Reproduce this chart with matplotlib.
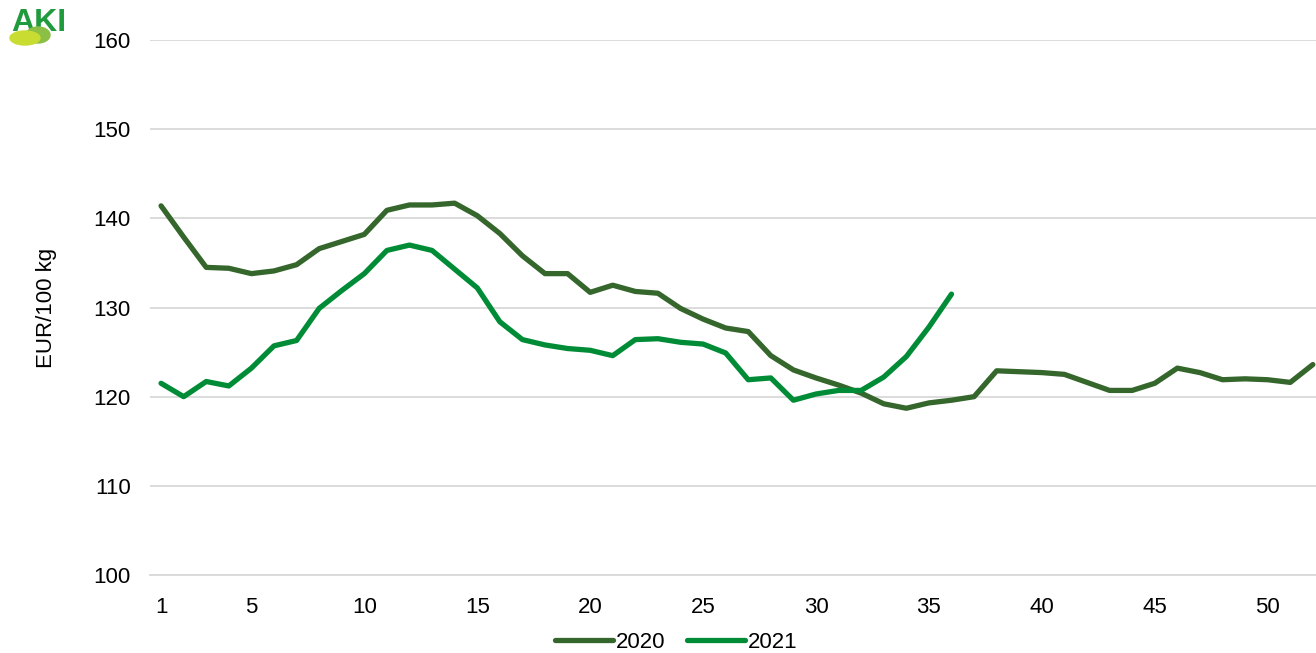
import numpy as np
import matplotlib.pyplot as plt
from matplotlib.patches import Ellipse

plt.rcParams['font.family'] = ['Liberation Sans', 'DejaVu Sans']

weeks_2020 = np.arange(1, 53)
price_2020 = [141.4, 137.9, 134.5, 134.4, 133.8, 134.1, 134.8, 136.6, 137.4, 138.2,
              140.9, 141.5, 141.5, 141.7, 140.3, 138.3, 135.8, 133.8, 133.8, 131.7,
              132.5, 131.8, 131.6, 129.9, 128.7, 127.7, 127.3, 124.6, 123.0, 122.1,
              121.3, 120.4, 119.2, 118.7, 119.3, 119.6, 120.0, 122.9, 122.8, 122.7,
              122.5, 121.6, 120.7, 120.7, 121.5, 123.2, 122.7, 121.9, 122.0, 121.9,
              121.6, 123.6]

weeks_2021 = np.arange(1, 37)
price_2021 = [121.5, 120.0, 121.7, 121.2, 123.2, 125.7, 126.3, 129.9, 131.9, 133.8,
              136.4, 137.0, 136.4, 134.3, 132.2, 128.4, 126.4, 125.8, 125.4, 125.2,
              124.6, 126.4, 126.5, 126.1, 125.9, 124.9, 121.9, 122.1, 119.6, 120.3,
              120.7, 120.7, 122.2, 124.5, 127.8, 131.5]

xticks = [1, 5, 10, 15, 20, 25, 30, 35, 40, 45, 50]
yticks = [100, 110, 120, 130, 140, 150, 160]

fig = plt.figure(figsize=(13.16, 6.53), dpi=100)
ax = fig.add_axes([150/1316, 1-575/653, 1-150/1316, (575-40)/653])

ax.plot(weeks_2020, price_2020, color='#35662c', lw=3.8, label='2020', solid_capstyle='round')
ax.plot(weeks_2021, price_2021, color='#008c36', lw=3.8, label='2021', solid_capstyle='round')

ax.set_xlim(0.51, 52.14)
ax.set_ylim(100, 160)
ax.set_xticks(xticks)
ax.set_yticks(yticks)
ax.tick_params(axis='both', length=0, labelsize=16)
ax.tick_params(axis='x', pad=16)
ax.tick_params(axis='y', pad=14)
ax.grid(axis='y', color='#d9d9d9', lw=1.3)
ax.set_axisbelow(True)
for s in ['top', 'right', 'left']:
    ax.spines[s].set_visible(False)
ax.spines['bottom'].set_color('#d9d9d9')
ax.spines['bottom'].set_linewidth(1.3)

ax.set_ylabel('EUR/100 kg', fontsize=16, labelpad=26)

fig.legend(loc='lower center', bbox_to_anchor=(0.514, -0.03), ncol=2, frameon=False,
           fontsize=16, handlelength=2.6, handletextpad=0.15, columnspacing=0.95)

# logo
fig.text(11/1316, 1-8/653, 'AKI', color='#1f9a3c', fontsize=23, fontweight='bold',
         va='top', ha='left', zorder=1)
fig.patches.append(Ellipse((25/1316, 1-38/653), 30/1316, 14/653, transform=fig.transFigure,
                           color='#c8dc32', zorder=3))
fig.patches.append(Ellipse((38/1316, 1-35/653), 24/1316, 16/653, transform=fig.transFigure,
                           color='#8cbf45', zorder=2))

fig.savefig('out.png', dpi=100)
